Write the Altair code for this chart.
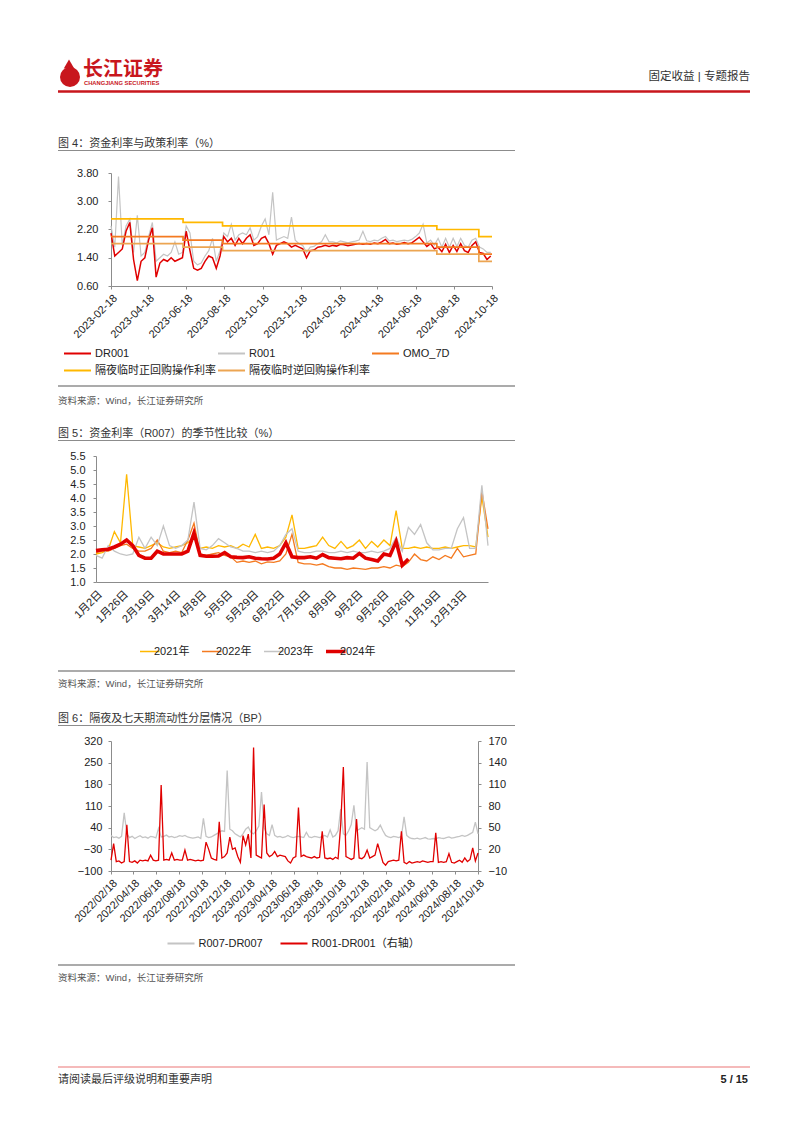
import json
import altair as alt
import pandas as pd

FONT = "Liberation Sans, Noto Sans CJK SC"
BAND_W = 780

# ---------------- Figure 4 : 资金利率与政策利率 ----------------
F4_START = "2023-02-18"          # first sample date, one sample every 6 days
F4_STEP = "6D"
DR001 = [2.10, 1.45, 1.55, 1.65, 2.15, 2.40, 1.35, 0.75, 1.30, 1.40,
         1.90, 2.25, 0.85, 1.25, 1.35, 1.30, 1.40, 1.30, 1.35, 1.40,
         2.15, 1.60, 1.10, 1.05, 1.10, 1.30, 1.45, 1.40, 1.10, 1.45,
         2.00, 1.85, 1.95, 1.75, 1.95, 1.80, 1.95, 2.05, 1.75, 1.80,
         1.95, 2.00, 1.80, 1.50, 1.75, 1.80, 1.85, 1.80, 1.70, 1.75,
         1.70, 1.65, 1.40, 1.60, 1.62, 1.70, 1.72, 1.75, 1.72, 1.75,
         1.73, 1.78, 1.77, 1.74, 1.76, 1.78, 1.80, 1.78, 1.80, 1.78,
         1.82, 1.80, 1.85, 1.92, 1.80, 1.82, 1.78, 1.80, 1.83, 1.80,
         1.82, 1.90, 1.98, 1.85, 1.72, 1.80, 1.65, 1.70, 1.57, 1.78,
         1.55, 1.75, 1.58, 1.80, 1.60, 1.55, 1.75, 1.85, 1.55, 1.52,
         1.35, 1.45]
R001 = [2.30, 1.70, 3.70, 1.75, 2.30, 2.50, 1.55, 2.60, 1.45, 1.55,
        2.00, 2.40, 1.30, 1.40, 1.50, 1.45, 1.55, 1.85, 1.50, 1.55,
        2.30, 2.10, 1.30, 1.20, 1.25, 1.45, 1.60, 1.95, 1.30, 1.60,
        2.10, 2.00, 2.35, 1.90, 2.05, 2.10, 2.05, 2.25, 1.90, 2.00,
        2.30, 2.50, 2.05, 3.25, 1.90, 1.95, 2.00, 1.95, 2.55, 1.90,
        1.80, 1.75, 1.55, 1.70, 1.72, 1.80, 1.85, 2.05, 1.85, 1.85,
        1.82, 1.88, 1.85, 1.82, 1.85, 1.87, 1.90, 2.15, 1.88, 1.86,
        1.90, 1.88, 1.95, 2.00, 1.88, 1.90, 1.86, 1.88, 1.90, 1.88,
        1.92, 2.00, 2.10, 2.35, 1.82, 1.90, 1.75, 1.95, 1.70, 1.95,
        1.70, 1.95, 1.72, 1.95, 1.75, 1.70, 1.90, 1.95, 1.70, 1.65,
        1.55, 1.55]
STEP_DATES = ["2023-02-18", "2023-06-13", "2023-08-15", "2024-07-22", "2024-09-27", "2024-10-18"]
OMO_7D = [2.0, 1.9, 1.8, 1.7, 1.5, 1.5]
ON_REPO = [2.5, 2.4, 2.3, 2.2, 2.0, 2.0]        # 隔夜临时正回购操作利率
ON_REVREPO = [1.8, 1.7, 1.6, 1.5, 1.3, 1.3]     # 隔夜临时逆回购操作利率
F4_SERIES = ["DR001", "R001", "OMO_7D", "隔夜临时正回购操作利率", "隔夜临时逆回购操作利率"]
F4_COLORS = ["#E00000", "#C4C4C4", "#F47A20", "#FFB800", "#ECA552"]
F4_X_TICKS = ["2023-02-18", "2023-04-18", "2023-06-18", "2023-08-18", "2023-10-18", "2023-12-18",
              "2024-02-18", "2024-04-18", "2024-06-18", "2024-08-18", "2024-10-18"]
F4_Y_TICKS = [0.6, 1.4, 2.2, 3.0, 3.8]

# ---------------- Figure 5 : R007 季节性比较 ----------------
F5_DAY_STEP = 4                  # trading-day index step between samples
F5_LABEL_EVERY = 17
F5_LABELS = ["1月2日", "1月26日", "2月19日", "3月14日", "4月8日", "5月5日", "5月29日", "6月22日",
             "7月16日", "8月9日", "9月2日", "9月26日", "10月26日", "11月19日", "12月13日"]
Y2021 = [2.0, 2.05, 2.15, 2.8, 2.4, 4.85, 2.3, 2.25, 2.2, 2.3, 2.4, 2.25, 2.2, 2.25, 2.3, 2.4,
         2.6, 2.2, 2.25, 2.2, 2.3, 2.25, 2.3, 2.2, 2.35, 2.25, 2.7, 2.2, 2.25, 2.2, 2.3, 2.6,
         3.4, 2.2, 2.2, 2.25, 2.3, 2.6, 2.3, 2.2, 2.45, 2.2, 2.3, 2.5, 2.2, 2.45, 2.25, 2.5,
         2.3, 3.55, 2.2, 2.2, 2.25, 2.2, 2.25, 2.2, 2.2, 2.25, 2.2, 2.25, 2.3, 2.3, 2.25, 4.05, 2.6]
Y2022 = [2.05, 2.1, 2.1, 2.2, 2.3, 2.35, 2.2, 2.1, 2.1, 2.2, 2.5, 2.1, 2.05, 2.1, 2.05, 2.5,
         3.1, 2.0, 1.95, 2.0, 2.05, 1.95, 1.9, 1.7, 1.75, 1.7, 1.75, 1.65, 1.72, 1.7, 1.75, 2.0,
         2.7, 1.7, 1.65, 1.65, 1.6, 1.65, 1.55, 1.5, 1.5, 1.45, 1.5, 1.48, 1.45, 1.5, 1.5, 1.55,
         1.5, 1.6, 1.55, 1.7, 2.0, 1.8, 1.75, 1.9, 1.8, 1.95, 1.85, 2.2, 1.9, 1.95, 2.0, 4.25, 2.9]
Y2023 = [1.95, 1.85, 2.3, 2.1, 2.0, 1.95, 2.0, 2.6, 2.2, 2.6, 2.3, 3.0, 2.3, 2.2, 2.3, 2.5,
         3.85, 2.2, 2.15, 2.3, 2.55, 2.4, 2.25, 2.2, 2.1, 2.1, 2.05, 2.1, 2.05, 2.1, 2.3, 2.7,
         2.9, 2.1, 2.05, 2.05, 2.1, 2.1, 2.05, 2.05, 2.1, 2.05, 2.1, 2.05, 2.05, 2.1, 2.05, 2.1,
         2.2, 2.6, 2.1, 2.95, 2.7, 3.05, 2.4, 2.15, 2.15, 2.2, 2.2, 2.9, 3.3, 2.2, 2.2, 4.45, 2.3]
Y2024 = [2.12, 2.15, 2.17, 2.25, 2.35, 2.5, 2.3, 1.95, 1.85, 1.85, 2.1, 2.0, 2.0, 2.0, 2.0, 2.1,
         2.75, 1.95, 1.92, 1.92, 1.93, 2.05, 1.9, 1.88, 1.87, 1.9, 1.85, 1.83, 1.82, 1.85, 2.0, 2.4,
         1.9, 1.87, 1.87, 1.9, 1.85, 1.98, 1.87, 1.85, 1.83, 1.87, 1.85, 2.02, 1.85, 1.8, 1.75, 2.0,
         1.95, 2.45, 1.6, 1.82]
F5_YEARS = ["2021年", "2022年", "2023年", "2024年"]
F5_COLORS = ["#FFB800", "#F47A20", "#C4C4C4", "#E00000"]
F5_THIN, F5_THICK = 1.3, 3.6
F5_Y_TICKS = [1.0, 1.5, 2.0, 2.5, 3.0, 3.5, 4.0, 4.5, 5.0, 5.5]

# ---------------- Figure 6 : 流动性分层 ----------------
F6_START = "2022-02-18"          # one sample every 7 days
F6_STEP = "7D"
R007_DR007 = [15, 8, 10, 6, 12, 88, 20, 8, 12, 5, 10, 14, 8, 10, 6, 12, 10, 7, 38, 10,
              12, 16, 10, 12, 8, 10, 14, 12, 15, 10, 8, 6, 8, 10, 5, 70, 12, 8, 10, 15,
              20, 25, 30, 28, 225, 35, 30, 20, 15, 10, 20, 35, 42, 25, 20, 30, 45, 155, 40, 20,
              15, 50, 15, 10, 12, 8, 10, 15, 10, 8, 10, 12, 10, 8, 25, 10, 8, 12, 10, 8,
              12, 15, 10, 33, 10, 15, 30, 100, 20, 15, 30, 50, 112, 30, 35, 40, 35, 252, 40, 35,
              30, 35, 48, 30, 15, 10, 8, 12, 10, 8, 12, 75, 15, 8, 5, 4, 6, 3, 5, 8,
              4, 3, 5, 4, 8, 6, 5, 8, 10, 6, 8, 10, 12, 15, 12, 15, 20, 25, 58, 20]
R001_DR001 = [5, 28, 3, 4, 1, 3, 54, 3, 2, 4, 1, 5, 4, 5, 4, 12, 5, 4, 5, 109,
              5, 6, 5, 15, 5, 6, 5, 5, 19, 5, 6, 5, 4, 5, 4, 5, 30, 20, 8, 6,
              5, 58, 8, 10, 15, 37, 20, 22, 10, 2, 39, 26, 41, 8, 161, 12, 10, 8, 82, 15,
              10, 12, 17, 10, 12, 11, 10, 4, 1, 8, 10, 78, 10, 12, 10, 9, 8, 10, 8, 9,
              45, 8, 7, 8, 6, 9, 7, 54, 134, 10, 8, 6, 8, 62, 8, 7, 10, 19, 8, 10,
              12, 28, 15, 2, -2, 3, 4, 5, 4, 5, 45, 2, 0, 3, 1, 2, 3, 2, 4, 3,
              2, 3, 3, 43, 2, 3, 2, 3, 14, 2, 1, 3, 5, 2, 8, 3, 6, 22, 4, 15]
F6_SERIES = ["R007-DR007", "R001-DR001（右轴）"]
F6_COLORS = ["#C4C4C4", "#E00000"]
F6_X_TICKS = ["2022-02-18", "2022-04-18", "2022-06-18", "2022-08-18", "2022-10-18", "2022-12-18",
              "2023-02-18", "2023-04-18", "2023-06-18", "2023-08-18", "2023-10-18", "2023-12-18",
              "2024-02-18", "2024-04-18", "2024-06-18", "2024-08-18", "2024-10-18"]
F6_LEFT_TICKS = [-100, -30, 40, 110, 180, 250, 320]
F6_RIGHT_TICKS = [-10, 20, 50, 80, 110, 140, 170]

# ---------------- page texts ----------------
TITLE4 = "图 4：资金利率与政策利率（%）"
TITLE5 = "图 5：资金利率（R007）的季节性比较（%）"
TITLE6 = "图 6：隔夜及七天期流动性分层情况（BP）"
SOURCE = "资料来源：Wind，长江证券研究所"

# ---------------- layout (page pixels) ----------------
P4 = dict(left=111, right=492, top=173, height=113)
P5 = dict(left=96, right=488, top=456, height=126)
P6 = dict(left=111, right=478, top=741, height=130)


def dt(s):
    y, m, d = (int(p) for p in s.split("-"))
    return alt.DateTime(year=y, month=m, date=d)


ONE = pd.DataFrame({"k": [0]})


def deco(top, height, texts=(), rules=(), extra=()):
    """Decoration band of the page; positions are page pixels."""
    layers = []
    for (x1, x2, y, color, w) in rules:
        layers.append(alt.Chart(ONE).mark_rule(color=color, strokeWidth=w).encode(
            x=alt.value(x1 - 8), x2=alt.value(x2 - 8), y=alt.value(y - top)))
    for (x, y, txt, size, color, weight, align) in texts:
        layers.append(alt.Chart(ONE).mark_text(
            text=txt, fontSize=size, color=color, fontWeight=weight, align=align,
            baseline="middle", font=FONT).encode(x=alt.value(x - 8), y=alt.value(y - top)))
    layers.extend(extra)
    return alt.layer(*layers).properties(width=BAND_W, height=height)


def legend(p, x, y, **kw):
    base = dict(title=None, orient="none", legendX=x - 8, legendY=y - p["top"] - 7.5,
                direction="horizontal", symbolType="stroke", symbolSize=729,
                labelFontSize=11, labelFont=FONT, labelColor="#222222", clipHeight=15,
                labelOffset=3, labelLimit=300, padding=0, rowPadding=2)
    base.update(kw)
    return alt.Legend(**base)


# ---------------- chart 4 ----------------
df_dr = pd.DataFrame({"date": pd.date_range(F4_START, periods=len(DR001), freq=F4_STEP),
                      "value": DR001, "series": "DR001"})
df_r = pd.DataFrame({"date": pd.date_range(F4_START, periods=len(R001), freq=F4_STEP),
                     "value": R001, "series": "R001"})
sd = pd.to_datetime(STEP_DATES)
df_steps = pd.concat([
    pd.DataFrame({"date": sd, "value": OMO_7D, "series": "OMO_7D"}),
    pd.DataFrame({"date": sd, "value": ON_REPO, "series": "隔夜临时正回购操作利率"}),
    pd.DataFrame({"date": sd, "value": ON_REVREPO, "series": "隔夜临时逆回购操作利率"}),
])

legend4 = legend(P4, 63, 353.5, columns=3, symbolStrokeWidth=2, columnPadding=1)
x4 = alt.X("date:T", title=None,
           scale=alt.Scale(domain=[dt(F4_START), dt(F4_X_TICKS[-1])],
                           range=[P4["left"] - 8, P4["right"] - 8]),
           axis=alt.Axis(values=[dt(s) for s in F4_X_TICKS], format="%Y-%m-%d",
                         labelAngle=-45, labelPadding=3, labelOverlap=False))
y4 = alt.Y("value:Q", title=None, scale=alt.Scale(domain=[0.6, 3.8], nice=False, zero=False),
           axis=alt.Axis(values=F4_Y_TICKS, format=".2f", labelPadding=10,
                         offset=-(P4["left"] - 8)))
c4 = alt.Color("series:N", scale=alt.Scale(domain=F4_SERIES, range=F4_COLORS), legend=legend4)

chart4 = alt.layer(
    alt.Chart(df_r).mark_line(strokeWidth=1.2).encode(x=x4, y=y4, color=c4),
    alt.Chart(df_dr).mark_line(strokeWidth=1.5).encode(x=x4, y=y4, color=c4),
    alt.Chart(df_steps).mark_line(strokeWidth=1.7, interpolate="step-after").encode(x=x4, y=y4, color=c4),
).properties(width=P4["right"] - 8, height=P4["height"])

# ---------------- chart 5 ----------------
frames = []
for name, vals in zip(F5_YEARS, [Y2021, Y2022, Y2023, Y2024]):
    frames.append(pd.DataFrame({"day": [i * F5_DAY_STEP for i in range(len(vals))],
                                "value": vals, "year": name}))
df5 = pd.concat(frames)
label_expr = f"{json.dumps(F5_LABELS, ensure_ascii=False)}[round(datum.value / {F5_LABEL_EVERY})]"
thick_year = F5_YEARS[-1]
legend5 = legend(P5, 140, 651.5, columns=4, symbolSize=784, columnPadding=12,
                 symbolStrokeWidth=alt.ExprRef(
                     expr=f"datum.value === '{thick_year}' ? {F5_THICK} : {F5_THIN}"))
x5 = alt.X("day:Q", title=None,
           scale=alt.Scale(domain=[0, 256], nice=False, zero=False,
                           range=[P5["left"] - 8, P5["right"] - 8]),
           axis=alt.Axis(values=[i * F5_LABEL_EVERY for i in range(len(F5_LABELS))],
                         labelExpr=label_expr, labelAngle=-45, ticks=False, labelPadding=6,
                         labelOverlap=False))
y5 = alt.Y("value:Q", title=None, scale=alt.Scale(domain=[1.0, 5.5], nice=False, zero=False),
           axis=alt.Axis(values=F5_Y_TICKS, format=".1f", labelPadding=8,
                         offset=-(P5["left"] - 8)))
c5 = alt.Color("year:N", scale=alt.Scale(domain=F5_YEARS, range=F5_COLORS), legend=legend5)
chart5 = alt.layer(
    alt.Chart(df5[df5["year"] != thick_year]).mark_line(strokeWidth=F5_THIN).encode(
        x=x5, y=y5, color=c5, order=alt.Order("day:Q")),
    alt.Chart(df5[df5["year"] == thick_year]).mark_line(strokeWidth=F5_THICK).encode(
        x=x5, y=y5, color=c5, order=alt.Order("day:Q")),
).properties(width=P5["right"] - 8, height=P5["height"])

# ---------------- chart 6 ----------------
df6a = pd.DataFrame({"date": pd.date_range(F6_START, periods=len(R007_DR007), freq=F6_STEP),
                     "value": R007_DR007, "series": F6_SERIES[0]})
df6b = pd.DataFrame({"date": pd.date_range(F6_START, periods=len(R001_DR001), freq=F6_STEP),
                     "value": R001_DR001, "series": F6_SERIES[1]})
legend6 = legend(P6, 166.5, 943.5, columns=2, symbolStrokeWidth=2, columnPadding=16)
x6 = alt.X("date:T", title=None,
           scale=alt.Scale(domain=[dt(F6_START), dt(F6_X_TICKS[-1])],
                           range=[P6["left"] - 8, P6["right"] - 8]),
           axis=alt.Axis(values=[dt(s) for s in F6_X_TICKS], format="%Y/%m/%d",
                         labelAngle=-45, labelPadding=3, labelOverlap=False))
c6 = alt.Color("series:N", scale=alt.Scale(domain=F6_SERIES, range=F6_COLORS), legend=legend6)
chart6 = alt.layer(
    alt.Chart(df6a).mark_line(strokeWidth=1.3).encode(
        x=x6, color=c6,
        y=alt.Y("value:Q", title=None, scale=alt.Scale(domain=[-100, 320], nice=False, zero=False),
                axis=alt.Axis(values=F6_LEFT_TICKS, orient="left", labelPadding=6,
                              offset=-(P6["left"] - 8)))),
    alt.Chart(df6b).mark_line(strokeWidth=1.3).encode(
        x=x6, color=c6,
        y=alt.Y("value:Q", title=None, scale=alt.Scale(domain=[-10, 170], nice=False, zero=False),
                axis=alt.Axis(values=F6_RIGHT_TICKS, orient="right", labelPadding=7))),
).resolve_scale(y="independent").properties(width=P6["right"] - 8, height=P6["height"])

# ---------------- page bands ----------------
TXT = "#333333"
SRC = "#555555"
RED = "#C8161D"
emblem = [
    alt.Chart(ONE).mark_point(shape="circle", filled=True, size=400, color=RED,
                              opacity=1).encode(x=alt.value(70 - 8), y=alt.value(77 - 8)),
    alt.Chart(ONE).mark_point(shape="triangle-up", filled=True, size=110, color=RED,
                              opacity=1).encode(x=alt.value(69 - 8), y=alt.value(64 - 8)),
]
head = deco(8, P4["top"] - 8,
            texts=[(83, 69.5, "长江证券", 20, RED, "bold", "left"),
                   (84, 82.5, "CHANGJIANG SECURITIES", 5.8, RED, "bold", "left"),
                   (750, 77, "固定收益 | 专题报告", 11.5, TXT, "normal", "right"),
                   (58, 143.5, TITLE4, 11, TXT, "normal", "left")],
            rules=[(58, 750, 91.5, RED, 2.5),
                   (58, 515, 150.5, "#8C8C8C", 1)],
            extra=emblem)
top_c = P4["top"] + P4["height"]
band_c = deco(top_c, P5["top"] - top_c,
              texts=[(58, 401, SOURCE, 9.5, SRC, "normal", "left"),
                     (58, 433.5, TITLE5, 11, TXT, "normal", "left")],
              rules=[(58, 515, 386, "#595959", 1.2),
                     (58, 515, 440.5, "#8C8C8C", 1)])
top_e = P5["top"] + P5["height"]
band_e = deco(top_e, P6["top"] - top_e,
              texts=[(58, 684, SOURCE, 9.5, SRC, "normal", "left"),
                     (58, 718.5, TITLE6, 11, TXT, "normal", "left")],
              rules=[(58, 515, 671, "#595959", 1.2),
                     (58, 515, 725.5, "#8C8C8C", 1)])
top_g = P6["top"] + P6["height"]
band_g = deco(top_g, 1124 - top_g,
              texts=[(58, 978, SOURCE, 9.5, SRC, "normal", "left"),
                     (58, 1079.5, "请阅读最后评级说明和重要声明", 11, TXT, "normal", "left"),
                     (748, 1079.5, "5 / 15", 11, "#222222", "bold", "right")],
              rules=[(58, 515, 965, "#595959", 1.2),
                     (58, 750, 1067, "#F2A3A3", 1.5)])

chart = alt.vconcat(head, chart4, band_c, chart5, band_e, chart6, band_g,
                    spacing=0, bounds="flush").resolve_scale(
    color="independent").resolve_legend(color="independent").properties(
    padding=0).configure_view(stroke=None).configure_axis(
    labelFont=FONT, labelFontSize=11, labelColor="#222222", domainColor="#8C8C8C",
    tickColor="#8C8C8C", tickSize=3, grid=False).configure_legend(labelFont=FONT)

chart.save("out.html", embed_options={"renderer": "svg", "actions": False})
